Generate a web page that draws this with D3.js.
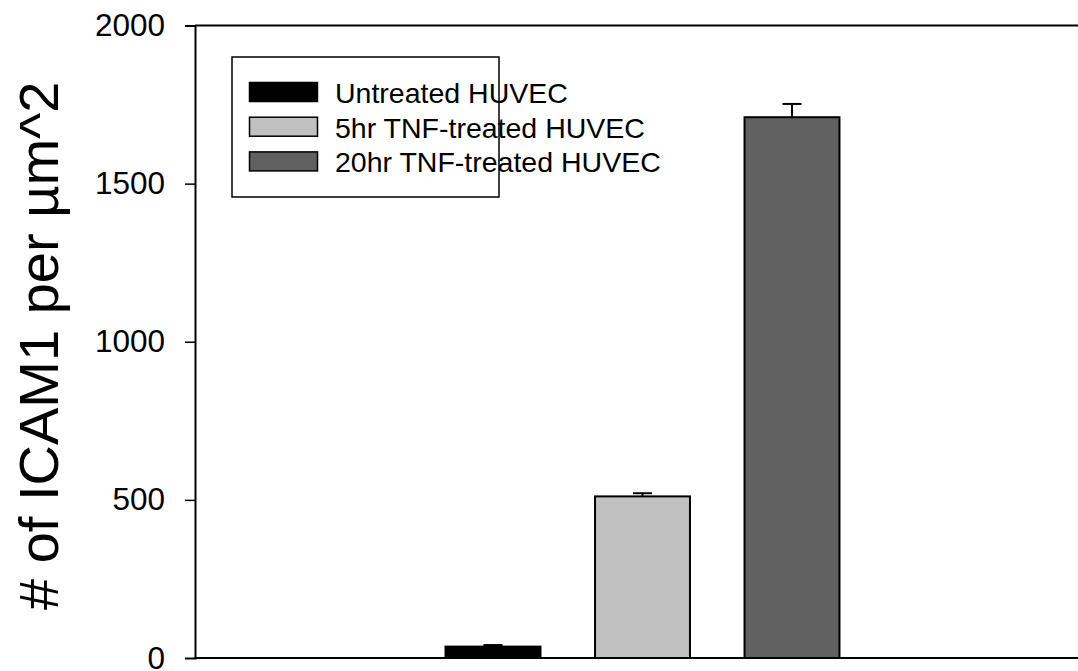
<!DOCTYPE html>
<html>
<head>
<meta charset="utf-8">
<script src="https://cdn.jsdelivr.net/npm/d3@7/dist/d3.min.js"></script>
<style>
html,body{margin:0;padding:0;background:#fff;}
svg{display:block;font-family:"Liberation Sans",Arial,sans-serif;}
</style>
</head>
<body>
<svg id="chart" width="1078" height="671"></svg>
<script>
const categories = ["Untreated HUVEC", "5hr TNF-treated HUVEC", "20hr TNF-treated HUVEC"];
const values = [36, 511, 1710];
const errors = [5, 10, 42];
const colors = ["#000000", "#c0c0c0", "#606060"];
const yTicks = [0, 500, 1000, 1500, 2000];
const yTitle = "# of ICAM1 per µm^2";

(function () {
const svg = d3.select("#chart");
const plotLeft = 195, plotTop = 25.5, plotBottom = 658, rightEdge = 1090;

const y = d3.scaleLinear().domain([0, 2000]).range([plotBottom, plotTop]);
const x = d3.scaleBand().domain(categories).range([418.25, 866.75]).paddingInner(0.365).paddingOuter(0.1825);

svg.append("line").attr("x1", plotLeft).attr("x2", rightEdge).attr("y1", y(2000)).attr("y2", y(2000))
  .attr("stroke", "#000").attr("stroke-width", 2);

svg.selectAll("rect.bar").data(categories).enter().append("rect")
  .attr("class", "bar")
  .attr("x", d => x(d))
  .attr("width", x.bandwidth())
  .attr("y", (d, i) => y(values[i]))
  .attr("height", (d, i) => y(0) - y(values[i]))
  .attr("fill", (d, i) => colors[i])
  .attr("stroke", "#000").attr("stroke-width", 2);

const capW = 19;
categories.forEach((c, i) => {
  const cx = x(c) + x.bandwidth() / 2;
  svg.append("line").attr("x1", cx).attr("x2", cx)
    .attr("y1", y(values[i])).attr("y2", y(values[i] + errors[i]))
    .attr("stroke", "#000").attr("stroke-width", 2);
  svg.append("line").attr("x1", cx - capW / 2).attr("x2", cx + capW / 2)
    .attr("y1", y(values[i] + errors[i])).attr("y2", y(values[i] + errors[i]))
    .attr("stroke", "#000").attr("stroke-width", 2);
});

svg.append("line").attr("x1", plotLeft).attr("x2", rightEdge).attr("y1", y(0)).attr("y2", y(0))
  .attr("stroke", "#000").attr("stroke-width", 2);

const yAxis = d3.axisLeft(y).tickValues(yTicks).tickSize(10).tickPadding(21).tickFormat(d3.format("d"));
const gy = svg.append("g").attr("transform", `translate(${plotLeft},0)`).call(yAxis);
gy.select(".domain").attr("stroke", "#000").attr("stroke-width", 2);
gy.selectAll(".tick line").attr("stroke", "#000").attr("stroke-width", 1.5)
  .attr("display", d => (d === 0 || d === 2000) ? "none" : null);
gy.selectAll(".tick text").attr("font-size", 31.5).attr("fill", "#000")
  .attr("font-family", "Liberation Sans, Arial, sans-serif")
  .attr("x", -30);

svg.append("text")
  .attr("transform", "translate(58," + ((plotTop + plotBottom) / 2 + 4) + ") rotate(-90)")
  .attr("text-anchor", "middle")
  .attr("font-size", 56)
  .attr("fill", "#000")
  .text(yTitle);

const lg = svg.append("g");
lg.append("rect").attr("x", 232).attr("y", 57).attr("width", 267).attr("height", 140)
  .attr("fill", "#fff").attr("stroke", "#000").attr("stroke-width", 1.5);
categories.forEach((c, i) => {
  const ry = 82.5 + i * 34.7;
  lg.append("rect").attr("x", 249.5).attr("y", ry).attr("width", 68).attr("height", 19)
    .attr("fill", colors[i]).attr("stroke", "#000").attr("stroke-width", 1.5);
  lg.append("text").attr("x", 335).attr("y", ry + 20.5).attr("font-size", 28.5).attr("fill", "#000").text(c);
});
})();
</script>
</body>
</html>
